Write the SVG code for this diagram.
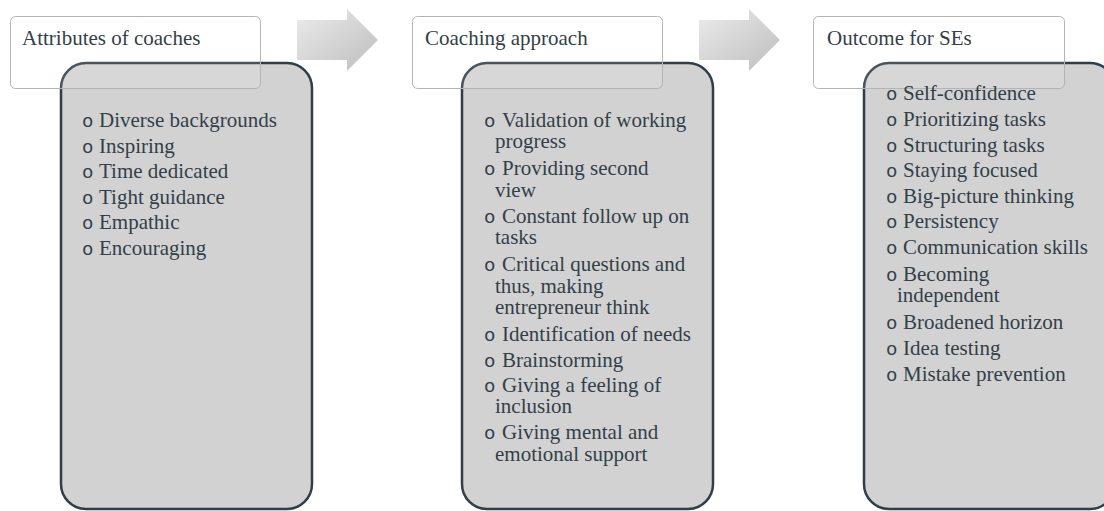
<svg xmlns="http://www.w3.org/2000/svg" width="1104" height="511" viewBox="0 0 1104 511">
  <style>
    .body { fill: #d2d2d2; stroke: #2f3e47; stroke-width: 2.5; }
    .head { fill: #ffffff; fill-opacity: 0.12; stroke: #b4b4b4; stroke-width: 1; }
    .title { font-family: "Liberation Serif", "Times New Roman", serif; font-size: 21px; fill: #333f48; }
    .item { font-family: "Liberation Serif", "Times New Roman", serif; font-size: 21px; fill: #333f48; }
    .bul { font-family: "Liberation Mono", "Courier New", monospace; font-size: 19px; fill: #333f48; }
    .arrow { fill: url(#arrowFill); }
  </style>
  <defs>
    <linearGradient id="arrowFill" x1="0" y1="0" x2="1" y2="1">
      <stop offset="0" stop-color="#ececec"/>
      <stop offset="1" stop-color="#bdbdbd"/>
    </linearGradient>
  </defs>

  <!-- block arrows between the columns -->
  <g id="connectors">
    <polygon class="arrow" points="297,20 347,20 347,9 378,40 347,71 347,60 297,60"/>
    <polygon class="arrow" points="699,20 749,20 749,9 780,40 749,71 749,60 699,60"/>
  </g>

  <!-- column 1 -->
  <g id="attributes">
    <rect class="body" x="61" y="63" width="251" height="446" rx="25"/>
    <rect class="head" x="10.5" y="16.5" width="250" height="72" rx="5"/>
    <text class="title" x="22" y="45">Attributes of coaches</text>
    <g>
      <text class="bul" x="82" y="127">o</text><text class="item" x="99" y="127">Diverse backgrounds</text>
      <text class="bul" x="82" y="153">o</text><text class="item" x="99" y="153">Inspiring</text>
      <text class="bul" x="82" y="178">o</text><text class="item" x="99" y="178">Time dedicated</text>
      <text class="bul" x="82" y="204">o</text><text class="item" x="99" y="204">Tight guidance</text>
      <text class="bul" x="82" y="229">o</text><text class="item" x="99" y="229">Empathic</text>
      <text class="bul" x="82" y="255">o</text><text class="item" x="99" y="255">Encouraging</text>
    </g>
  </g>

  <!-- column 2 -->
  <g id="approach">
    <rect class="body" x="462" y="63" width="251" height="446" rx="25"/>
    <rect class="head" x="412.5" y="16.5" width="250" height="72" rx="5"/>
    <text class="title" x="425" y="45">Coaching approach</text>
    <g>
      <text class="bul" x="484" y="127">o</text><text class="item" x="502" y="127">Validation of working</text>
      <text class="item" x="495" y="148">progress</text>
      <text class="bul" x="484" y="175">o</text><text class="item" x="502" y="175">Providing second</text>
      <text class="item" x="495" y="197">view</text>
      <text class="bul" x="484" y="223">o</text><text class="item" x="502" y="223">Constant  follow up on</text>
      <text class="item" x="495" y="244">tasks</text>
      <text class="bul" x="484" y="271">o</text><text class="item" x="502" y="271">Critical questions and</text>
      <text class="item" x="495" y="293">thus, making</text>
      <text class="item" x="495" y="314">entrepreneur think</text>
      <text class="bul" x="484" y="341">o</text><text class="item" x="502" y="341">Identification of needs</text>
      <text class="bul" x="484" y="367">o</text><text class="item" x="502" y="367">Brainstorming</text>
      <text class="bul" x="484" y="392">o</text><text class="item" x="502" y="392">Giving a feeling of</text>
      <text class="item" x="495" y="413">inclusion</text>
      <text class="bul" x="484" y="439">o</text><text class="item" x="502" y="439">Giving mental and</text>
      <text class="item" x="495" y="461">emotional support</text>
    </g>
  </g>

  <!-- column 3 -->
  <g id="outcome">
    <rect class="body" x="864" y="63" width="251" height="446" rx="25"/>
    <rect class="head" x="813.5" y="16.5" width="251" height="72" rx="5"/>
    <text class="title" x="827" y="45">Outcome for SEs</text>
    <g>
      <text class="bul" x="886" y="100">o</text><text class="item" x="903" y="100">Self-confidence</text>
      <text class="bul" x="886" y="126">o</text><text class="item" x="903" y="126">Prioritizing tasks</text>
      <text class="bul" x="886" y="152">o</text><text class="item" x="903" y="152">Structuring tasks</text>
      <text class="bul" x="886" y="177">o</text><text class="item" x="903" y="177">Staying focused</text>
      <text class="bul" x="886" y="203">o</text><text class="item" x="903" y="203">Big-picture thinking</text>
      <text class="bul" x="886" y="228">o</text><text class="item" x="903" y="228">Persistency</text>
      <text class="bul" x="886" y="254">o</text><text class="item" x="903" y="254">Communication skills</text>
      <text class="bul" x="886" y="281">o</text><text class="item" x="903" y="281">Becoming</text>
      <text class="item" x="897" y="302">independent</text>
      <text class="bul" x="886" y="329">o</text><text class="item" x="903" y="329">Broadened horizon</text>
      <text class="bul" x="886" y="355">o</text><text class="item" x="903" y="355">Idea testing</text>
      <text class="bul" x="886" y="381">o</text><text class="item" x="903" y="381">Mistake prevention</text>
    </g>
  </g>
</svg>
